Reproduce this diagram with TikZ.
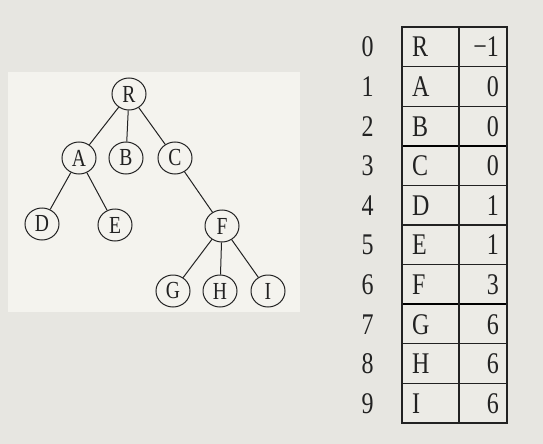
\documentclass[tikz,border=0pt]{standalone}
\usepackage{fontspec}
\setmainfont{Liberation Serif}[FakeStretch=0.8]
\usetikzlibrary{shapes.geometric}
\definecolor{bgc}{HTML}{E7E6E1}
\definecolor{panel}{HTML}{F4F3EE}
\definecolor{cellc}{HTML}{ECEBE6}
\definecolor{ink}{HTML}{222222}
\begin{document}
\begin{tikzpicture}[x=1pt,y=-1pt,
  tnode/.style={ellipse, draw=ink, line width=1pt, minimum width=34pt, minimum height=32pt,
    inner sep=0pt, font=\fontsize{24.5}{24.5}\selectfont, text=ink},
  tedge/.style={draw=ink, line width=1pt},
  tabtext/.style={inner sep=0pt, font=\fontsize{30}{30}\selectfont, text=ink},
  grid/.style={draw=ink, line width=1.3pt},
  thickgrid/.style={draw=black, line width=2.2pt}]
\useasboundingbox (0,0) rectangle (543,444);
\fill[bgc] (0,0) rectangle (543,444);
\fill[panel] (8,72) rectangle (300,312);
% tree
\node[tnode] (R) at (129,94) {R};
\node[tnode] (A) at (79,158) {A};
\node[tnode] (B) at (126,158) {B};
\node[tnode] (C) at (175,158) {C};
\node[tnode] (D) at (42,224) {D};
\node[tnode] (E) at (115,225) {E};
\node[tnode] (F) at (222,226) {F};
\node[tnode] (G) at (173,291) {G};
\node[tnode] (H) at (220,291) {H};
\node[tnode] (I) at (268,291) {I};
\draw[tedge] (R) -- (A);
\draw[tedge] (R) -- (B);
\draw[tedge] (R) -- (C);
\draw[tedge] (A) -- (D);
\draw[tedge] (A) -- (E);
\draw[tedge] (C) -- (F);
\draw[tedge] (F) -- (G);
\draw[tedge] (F) -- (H);
\draw[tedge] (F) -- (I);
% table
\fill[cellc] (402,27) rectangle (507,423);
\foreach \i in {1,2,4,5,6,8,9} {
  \draw[grid] (402,27+39.6*\i) -- (507,27+39.6*\i);
}
\foreach \i in {3,7} {
  \draw[thickgrid] (402,27+39.6*\i) -- (507,27+39.6*\i);
}
\draw[grid] (402,27) rectangle (507,423);
\draw[grid] (459,27) -- (459,423);
\foreach \i/\l/\p in {0/R/−1,1/A/0,2/B/0,3/C/0,4/D/1,5/E/1,6/F/3,7/G/6,8/H/6,9/I/6} {
  \node[tabtext, anchor=base] (n\i) at (367.5,27+39.6*\i+19.8+10) {\i};
  \node[tabtext, anchor=base west] (l\i) at (412,27+39.6*\i+19.8+10) {\l};
  \node[tabtext, anchor=base east] (p\i) at (499,27+39.6*\i+19.8+10) {\p};
}
\end{tikzpicture}
\end{document}
